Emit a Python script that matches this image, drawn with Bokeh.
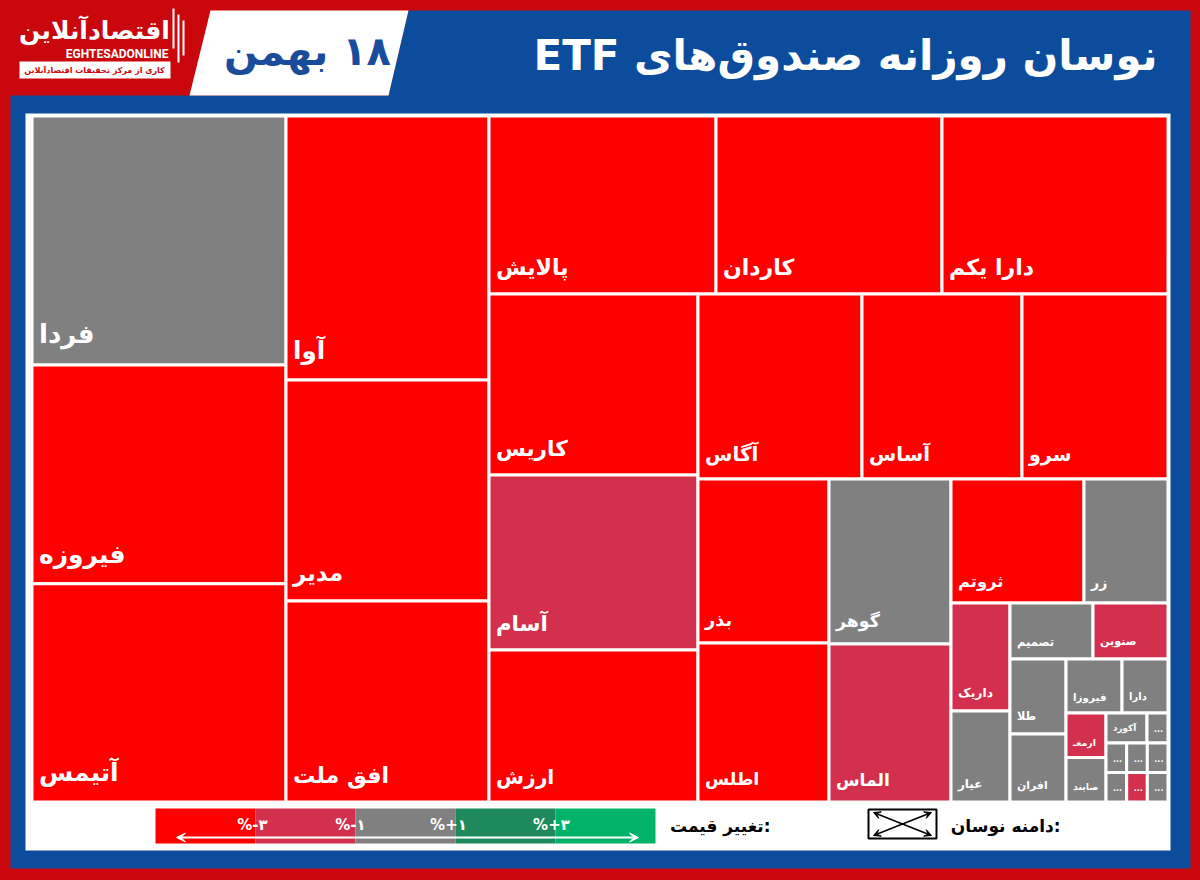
import math
from bokeh.plotting import figure
from bokeh.models import Range1d, ColumnDataSource, Arrow, VeeHead
from bokeh.embed import file_html
from bokeh.resources import INLINE
from bokeh.core.properties import value

# ---------------- data ----------------
TITLE = "نوسان روزانه صندوق‌های ETF"
DATE = "۱۸ بهمن"
LOGO = "اقتصادآنلاین"
LOGO_EN = "EGHTESADONLINE"
LOGO_SUB = "کاری از مرکز تحقیقات اقتصادآنلاین"

funds = ["فردا", "فیروزه", "آتیمس", "آوا", "مدیر", "افق ملت", "پالایش", "کاردان",
         "دارا یکم", "کاریس", "آسام", "ارزش", "آگاس", "آساس", "سرو", "بذر", "اطلس",
         "گوهر", "الماس", "ثروتم", "زر", "داریک", "عیار", "تصمیم", "صنوبن", "طلا",
         "افران", "فیروزا", "دارا", "ارمغـ", "صایند", "آکورد", "...", "...", "...",
         "...", "...", "...", "..."]
# relative size (area) of each fund
sizes = [632.5, 555.6, 554.4, 535.9, 448.6, 408.0, 404.1, 402.3, 402.3, 378.3,
         365.8, 317.7, 303.4, 296.0, 270.1, 214.8, 208.3, 201.3, 192.8, 164.9,
         104.2, 63.7, 53.7, 46.5, 42.0, 42.0, 38.1, 30.2, 24.8, 17.8, 17.8, 12.3,
         6.3, 6.1, 6.1, 6.1, 6.1, 6.1, 6.1]
# price-change band: -2 = below -3%, -1 = -3%..-1%, 0 = -1%..+1%
bands = [0, -2, -2, -2, -2, -2, -2, -2, -2, -2, -1, -2, -2, -2, -2, -2, -2, 0, -1,
         -2, 0, -1, 0, 0, -1, 0, 0, 0, 0, -1, 0, 0, 0, 0, 0, 0, 0, -1, 0]
# how many funds go in each strip of the treemap
strips = [3, 3, 3, 3, 3, 2, 2, 2, 2, 2, 2, 2, 2, 2, 2, 2, 1, 1]

legend_labels = ["%-۳", "%-۱", "%+۱", "%+۳"]
legend_title = "تغییر قیمت:"
range_title = "دامنه نوسان:"

BAND_COLORS = {-2: "#ff0000", -1: "#d3304d", 0: "#808080"}
LEGEND_COLORS = ["#ff0000", "#d3304d", "#808080", "#1e8a5c", "#00b368"]
RED_BG = "#c9070c"
BLUE = "#0b4d9c"

# ---------------- treemap layout ----------------
def strip_layout(vals, groups, x0, y0, w, h):
    total = sum(vals)
    k = w * h / total
    areas = [v * k for v in vals]
    rects = []
    i = 0
    for g in groups:
        grp = areas[i:i + g]
        i += g
        s = sum(grp)
        if w >= h:
            cw = s / h
            yy = y0
            for a in grp:
                ch = a / cw
                rects.append((x0, x0 + cw, yy, yy + ch, a))
                yy += ch
            x0 += cw
            w -= cw
        else:
            rh = s / w
            xx = x0
            for a in grp:
                cw = a / rh
                rects.append((xx, xx + cw, y0, y0 + rh, a))
                xx += cw
            y0 += rh
            h -= rh
    return rects

TX0, TY0, TX1, TY1 = 31.5, 115.5, 1167.5, 801.5
rects = strip_layout(sizes, strips, TX0, TY0, TX1 - TX0, TY1 - TY0)

left = [r[0] for r in rects]
right = [r[1] for r in rects]
top = [r[2] for r in rects]
bottom = [r[3] for r in rects]
fs = [max(7.0, min(27.0, 6 + 0.08 * math.sqrt(r[4]))) for r in rects]
src = ColumnDataSource(dict(
    left=left, right=right, top=top, bottom=bottom,
    color=[BAND_COLORS[b] for b in bands],
    name=funds,
    lx=[l + 7 for l in left],
    ly=[b - (0.9 * f + 7) for b, f in zip(bottom, fs)],
    fs=["%.1fpx" % f for f in fs],
))

# ---------------- figure ----------------
p = figure(width=1200, height=880, x_range=Range1d(0, 1200), y_range=Range1d(880, 0),
           output_backend="svg", toolbar_location=None, min_border=0,
           background_fill_color=RED_BG, border_fill_color=RED_BG, outline_line_color=None)
p.axis.visible = False
p.grid.visible = False

FONT = value("DejaVu Sans")

# frame
p.patch([408, 1190, 1190, 10, 10, 388], [10, 10, 868, 868, 95, 95],
        fill_color=BLUE, line_color=None)
p.patch([210, 408, 388, 189], [10, 10, 95, 95], fill_color="white", line_color=None)
p.quad(left=[25], right=[1170], top=[113], bottom=[850], fill_color="white", line_color=None)

# logo
p.text(x=[94], y=[30], text=[LOGO], text_color="white", text_font=FONT,
       text_font_style="bold", text_font_size="25px", text_align="center",
       text_baseline="middle")
p.text(x=[168], y=[53], text=[LOGO_EN], text_color="white", text_font=value("Roboto"),
       text_font_style="bold", text_font_size="12px", text_align="right",
       text_baseline="middle")
p.quad(left=[19], right=[170], top=[61], bottom=[78], fill_color="white", line_color=None)
p.text(x=[94], y=[70], text=[LOGO_SUB], text_color="#c9070c", text_font=FONT,
       text_font_style="bold", text_font_size="8px", text_align="center",
       text_baseline="middle")
p.quad(left=[172, 177, 182], right=[174, 179, 184], top=[8, 14, 20],
       bottom=[48, 62, 55], fill_color="white", line_color=None)

# titles
p.text(x=[1157], y=[55], text=["\u202b" + TITLE + "\u202c"], text_color="white",
       text_font=FONT, text_font_style="bold", text_font_size="42px",
       text_align="right", text_baseline="middle")
p.text(x=[307], y=[50], text=["\u202b" + DATE + "\u202c"], text_color="#1a4c9c",
       text_font=FONT, text_font_style="bold", text_font_size="40px",
       text_align="center", text_baseline="middle")

# treemap
p.quad(left="left", right="right", top="top", bottom="bottom", source=src,
       fill_color="color", line_color="white", line_width=3)
p.text(x="lx", y="ly", text="name", source=src, text_color="white", text_font=FONT,
       text_font_style="bold", text_font_size="fs", text_align="left",
       text_baseline="middle")

# legend: colour scale
seg_edges = [155, 255, 355, 455, 555, 655]
p.quad(left=seg_edges[:-1], right=seg_edges[1:], top=[808] * 5, bottom=[843] * 5,
       fill_color=LEGEND_COLORS, line_color=None)
p.text(x=[252, 350, 448, 551], y=[824] * 4, text=legend_labels, text_color="white",
       text_font=FONT, text_font_style="bold", text_font_size="15px",
       text_align="center", text_baseline="middle")
p.add_layout(Arrow(x_start=176, y_start=837, x_end=638, y_end=837, line_color="white",
                   line_width=2,
                   start=VeeHead(size=9, fill_color="white", line_color="white"),
                   end=VeeHead(size=9, fill_color="white", line_color="white")))
p.text(x=[770], y=[825], text=[legend_title], text_color="black", text_font=FONT,
       text_font_style="bold", text_font_size="17px", text_align="right",
       text_baseline="middle")

# legend: range box
p.quad(left=[868], right=[936], top=[809], bottom=[838], fill_color=None,
       line_color="black", line_width=2)
for (xa, ya, xb, yb) in [(873, 812, 931, 835), (873, 835, 931, 812)]:
    p.add_layout(Arrow(x_start=xa, y_start=ya, x_end=xb, y_end=yb, line_color="black",
                       line_width=1.5,
                       start=VeeHead(size=7, fill_color="black", line_color="black"),
                       end=VeeHead(size=7, fill_color="black", line_color="black")))
p.text(x=[1060], y=[825], text=[range_title], text_color="black", text_font=FONT,
       text_font_style="bold", text_font_size="17px", text_align="right",
       text_baseline="middle")

html = file_html(p, INLINE, title="ETF")
html = html.replace("<body>", '<body style="background:%s;">' % RED_BG)
open("out.html", "w").write(html)
